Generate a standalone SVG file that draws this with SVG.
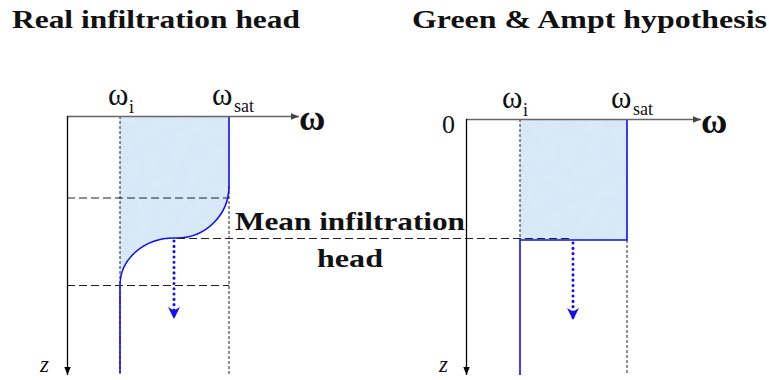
<svg xmlns="http://www.w3.org/2000/svg" width="769" height="380" viewBox="0 0 769 380">
<style>
.title{font-family:"Liberation Serif","DejaVu Serif",serif;font-weight:bold;font-size:25px;fill:#111}
.lbl{font-family:"Liberation Serif","DejaVu Serif",serif;fill:#111}
.om{font-size:31px}
.omax{font-size:36px;font-weight:bold}
.sub{font-size:18px}
.zz{font-size:23px;font-style:italic}
.ax{stroke:#000;stroke-width:1.3;fill:none}
.axg{stroke:#666;stroke-width:1.6;fill:none}
.dash{stroke:#222;stroke-width:1.2;stroke-dasharray:8 4;fill:none}
.vdash{stroke:#222;stroke-width:1;stroke-dasharray:3 2;fill:none}
.blue{stroke:#1010f0;stroke-width:1.6;fill:none}
.dot{stroke:#1010f0;stroke-width:3;stroke-dasharray:0.1 5.2;stroke-linecap:round;fill:none}
.fill{fill:#d6e6f6}
</style>
<defs>
<marker id="ah" viewBox="0 0 10 10" refX="10" refY="5" markerWidth="8" markerHeight="8" markerUnits="userSpaceOnUse" orient="auto"><path d="M0,1 L10,5 L0,9 Z" fill="#000"/></marker>
<marker id="ahg" viewBox="0 0 10 10" refX="10" refY="5" markerWidth="8" markerHeight="8" markerUnits="userSpaceOnUse" orient="auto"><path d="M0,1 L10,5 L0,9 Z" fill="#444"/></marker>
<marker id="bh" viewBox="0 0 10 10" refX="10" refY="5" markerWidth="14" markerHeight="12" markerUnits="userSpaceOnUse" orient="auto"><path d="M0,0 L10,5 L0,10 L3,5 Z" fill="#1010f0"/></marker>
<filter id="tex" x="0" y="0" width="1" height="1"><feTurbulence type="fractalNoise" baseFrequency="0.08" numOctaves="2" seed="3" result="n"/><feColorMatrix in="n" type="matrix" values="0 0 0 0 0.72  0 0 0 0 0.84  0 0 0 0 0.96  0 0 0 0.7 0" result="c"/><feComposite in="c" in2="SourceGraphic" operator="in" result="t"/><feMerge><feMergeNode in="SourceGraphic"/><feMergeNode in="t"/></feMerge></filter>
</defs>

<g id="titles">
<text class="title" x="12" y="28" textLength="288" lengthAdjust="spacingAndGlyphs">Real infiltration head</text>
<text class="title" x="412" y="28" textLength="355" lengthAdjust="spacingAndGlyphs">Green &amp; Ampt hypothesis</text>
</g>

<g id="left-diagram">
<path class="fill" filter="url(#tex)" d="M120,116 H229 V186 A52,52 0 0 1 177,238 H174 A54,47 0 0 0 120,285 Z"/>
<line class="vdash" x1="120" y1="116" x2="120" y2="375"/>
<line class="vdash" x1="229" y1="186" x2="229" y2="375"/>
<line class="dash" x1="67" y1="198" x2="229" y2="198"/>
<line class="dash" x1="67" y1="285.5" x2="229" y2="285.5"/>
<path class="blue" d="M229,116 V186 A52,52 0 0 1 177,238 H174 A54,47 0 0 0 120,285 V373"/>
<line class="axg" x1="67" y1="116.5" x2="299" y2="116.5" marker-end="url(#ahg)"/>
<line class="ax" x1="67.5" y1="116" x2="67.5" y2="375" marker-end="url(#ah)"/>
<text class="lbl omax" x="299" y="130">ω</text>
<text class="lbl om" x="108" y="105">ω</text>
<text class="lbl sub" x="129" y="113">i</text>
<text class="lbl om" x="212" y="105">ω</text>
<text class="lbl sub" x="234" y="112">sat</text>
<text class="lbl zz" x="40" y="372">z</text>
<path class="dot" d="M174,241 V319" marker-end="url(#bh)"/>
</g>

<g id="right-diagram">
<rect class="fill" filter="url(#tex)" x="520" y="119" width="107" height="121"/>
<line class="vdash" x1="520" y1="119" x2="520" y2="240"/>
<line class="vdash" x1="627" y1="240" x2="627" y2="375"/>
<path class="blue" d="M627,119 V240 H520 V375"/>
<line class="axg" x1="466" y1="119.5" x2="701" y2="119.5" marker-end="url(#ahg)"/>
<line class="ax" x1="466.5" y1="119" x2="466.5" y2="375" marker-end="url(#ah)"/>
<text class="lbl" x="442" y="133" style="font-size:26px">0</text>
<text class="lbl omax" x="701" y="133">ω</text>
<text class="lbl om" x="502" y="108">ω</text>
<text class="lbl sub" x="523" y="116">i</text>
<text class="lbl om" x="611" y="108">ω</text>
<text class="lbl sub" x="633" y="115">sat</text>
<text class="lbl zz" x="439" y="372">z</text>
<path class="dot" d="M573,243 V320" marker-end="url(#bh)"/>
</g>

<g id="connectors">
<line class="dash" x1="177" y1="238.5" x2="573" y2="238.5"/>
</g>

<g id="mean-label">
<text class="title" x="235" y="230" textLength="230" lengthAdjust="spacingAndGlyphs">Mean infiltration</text>
<text class="title" x="317" y="267" textLength="66" lengthAdjust="spacingAndGlyphs">head</text>
</g>
</svg>
